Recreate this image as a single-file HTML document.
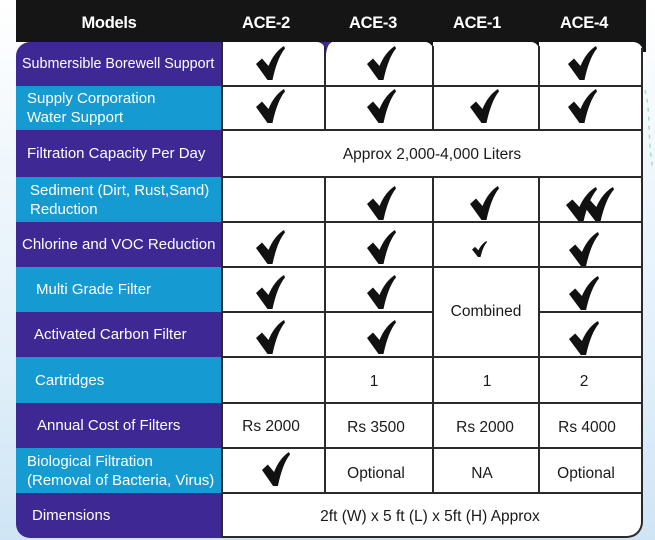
<!DOCTYPE html>
<html>
<head>
<meta charset="utf-8">
<style>
  html,body{margin:0;padding:0;}
  body{width:655px;height:540px;position:relative;overflow:hidden;
    background:linear-gradient(to bottom,#ffffff 0%,#f0f7fc 30%,#e2f0fa 65%,#cfe5f5 100%);
    font-family:"Liberation Sans",Arial,sans-serif;}
  .abs{position:absolute;}
  .hdr{left:16px;top:0;width:630px;height:42px;background:#151515;}
  .htxt{position:absolute;top:0;height:46px;line-height:46px;color:#fff;font-weight:bold;font-size:16.5px;transform:translateX(-50%);white-space:nowrap;letter-spacing:-0.3px;}
  .labels{left:16px;top:42px;width:206px;height:496px;border-radius:14px 0 0 14px;overflow:hidden;}
  .lrow{position:absolute;left:0;width:206px;color:#fff;font-size:15px;display:flex;align-items:center;white-space:nowrap;line-height:19px;box-sizing:border-box;}
  .p{background:#3d2894;}
  .b{background:#169ad2;}
  .data{left:222px;top:42px;width:421px;height:496px;background:#fff;border-bottom-right-radius:16px;}
  .hl{position:absolute;height:2px;background:#2a2a2a;}
  .vl{position:absolute;width:2px;background:#2a2a2a;}
  .t{position:absolute;font-size:15.5px;color:#1a1a1a;transform:translate(-50%,-50%);white-space:nowrap;}
  svg.ck{position:absolute;}
</style>
</head>
<body>
<!-- header -->
<div class="abs hdr"></div>
<div class="htxt" style="left:109px;">Models</div>
<div class="htxt" style="left:266px;">ACE-2</div>
<div class="htxt" style="left:373px;">ACE-3</div>
<div class="htxt" style="left:477px;">ACE-1</div>
<div class="htxt" style="left:584px;">ACE-4</div>

<!-- label column -->
<div class="abs labels">
  <div class="lrow p" style="top:0;height:44px;padding-left:6px;font-size:14.3px;">Submersible Borewell Support</div>
  <div class="lrow b" style="top:44px;height:44px;padding-left:11px;">Supply Corporation<br>Water Support</div>
  <div class="lrow p" style="top:88px;height:47px;padding-left:11px;">Filtration Capacity Per Day</div>
  <div class="lrow b" style="top:135px;height:45px;padding-left:14px;">Sediment (Dirt, Rust,Sand)<br>Reduction</div>
  <div class="lrow p" style="top:180px;height:45px;padding-left:6px;">Chlorine and VOC Reduction</div>
  <div class="lrow b" style="top:225px;height:45px;padding-left:20px;">Multi Grade Filter</div>
  <div class="lrow p" style="top:270px;height:45px;padding-left:18px;">Activated Carbon Filter</div>
  <div class="lrow b" style="top:315px;height:46px;padding-left:19px;">Cartridges</div>
  <div class="lrow p" style="top:361px;height:45px;padding-left:21px;">Annual Cost of Filters</div>
  <div class="lrow b" style="top:406px;height:45px;padding-left:11px;">Biological Filtration<br>(Removal of Bacteria, Virus)</div>
  <div class="lrow p" style="top:451px;height:45px;padding-left:16px;">Dimensions</div>
</div>

<!-- data area -->
<div class="abs data"></div>
<!-- row1 top-right rounded corners on black -->
<div class="abs" style="left:317px;top:42px;width:8px;height:8px;background:#151515;"></div>
<div class="abs" style="left:317px;top:42px;width:8px;height:8px;background:#fff;border-top-right-radius:8px;"></div>
<div class="abs" style="left:425px;top:42px;width:8px;height:8px;background:#151515;"></div>
<div class="abs" style="left:425px;top:42px;width:8px;height:8px;background:#fff;border-top-right-radius:8px;"></div>
<div class="abs" style="left:531px;top:42px;width:8px;height:8px;background:#151515;"></div>
<div class="abs" style="left:531px;top:42px;width:8px;height:8px;background:#fff;border-top-right-radius:8px;"></div>
<div class="abs" style="left:634px;top:42px;width:12px;height:10px;background:#151515;"></div>
<div class="abs" style="left:631px;top:42px;width:12px;height:12px;background:#fff;border-top-right-radius:10px;"></div>
<svg class="abs" style="left:320px;top:42px;" width="12" height="12"><path d="M0,0 L12,0 C8,2 7,6 6,12 C5,6 4,2 0,0 Z" fill="#3d2894"/></svg>

<!-- horizontal lines -->
<div class="hl" style="left:222px;top:85px;width:421px;"></div>
<div class="hl" style="left:222px;top:129px;width:421px;"></div>
<div class="hl" style="left:222px;top:176px;width:421px;"></div>
<div class="hl" style="left:222px;top:221px;width:421px;"></div>
<div class="hl" style="left:222px;top:266px;width:421px;"></div>
<div class="hl" style="left:222px;top:311px;width:211px;"></div>
<div class="hl" style="left:539px;top:311px;width:104px;"></div>
<div class="hl" style="left:222px;top:356px;width:421px;"></div>
<div class="hl" style="left:222px;top:402px;width:421px;"></div>
<div class="hl" style="left:222px;top:447px;width:421px;"></div>
<div class="hl" style="left:222px;top:492px;width:421px;"></div>
<!-- bottom border with rounded corner -->
<div class="abs" style="left:222px;top:493px;width:419px;height:43px;border-bottom:2px solid #2a2a2a;border-right:2px solid #2a2a2a;border-bottom-right-radius:16px;"></div>

<!-- vertical lines -->
<div class="vl" style="left:221px;top:42px;height:496px;"></div>
<div class="vl" style="left:324px;top:46px;height:84px;"></div>
<div class="vl" style="left:324px;top:177px;height:316px;"></div>
<div class="vl" style="left:432px;top:46px;height:84px;"></div>
<div class="vl" style="left:432px;top:177px;height:316px;"></div>
<div class="vl" style="left:538px;top:46px;height:84px;"></div>
<div class="vl" style="left:538px;top:177px;height:316px;"></div>
<div class="vl" style="left:641px;top:48px;height:450px;"></div>

<!-- text cells -->
<div class="t" style="left:432px;top:155px;">Approx 2,000-4,000 Liters</div>
<div class="t" style="left:486px;top:312px;">Combined</div>
<div class="t" style="left:374px;top:382px;">1</div>
<div class="t" style="left:487px;top:382px;">1</div>
<div class="t" style="left:584px;top:382px;">2</div>
<div class="t" style="left:271px;top:427px;">Rs 2000</div>
<div class="t" style="left:376px;top:428px;">Rs 3500</div>
<div class="t" style="left:485px;top:428px;">Rs 2000</div>
<div class="t" style="left:587px;top:428px;">Rs 4000</div>
<div class="t" style="left:376px;top:474px;">Optional</div>
<div class="t" style="left:482px;top:474px;">NA</div>
<div class="t" style="left:586px;top:474px;">Optional</div>
<div class="t" style="left:430px;top:517px;">2ft (W) x 5 ft (L) x 5ft (H) Approx</div>

<!-- check marks -->
<!-- row1 -->
<svg class="ck" style="left:256px;top:46px;" width="29" height="34" viewBox="0 0 29 34"><path d="M0,18 L6,12.5 L12.5,20 C16,11 22,3.5 28,0 L29,2.5 C23.5,9 19.5,20 16.5,34 L11.5,34 Z" fill="#111"/></svg>
<svg class="ck" style="left:367px;top:46px;" width="29" height="34" viewBox="0 0 29 34"><path d="M0,18 L6,12.5 L12.5,20 C16,11 22,3.5 28,0 L29,2.5 C23.5,9 19.5,20 16.5,34 L11.5,34 Z" fill="#111"/></svg>
<svg class="ck" style="left:568px;top:46px;" width="29" height="34" viewBox="0 0 29 34"><path d="M0,18 L6,12.5 L12.5,20 C16,11 22,3.5 28,0 L29,2.5 C23.5,9 19.5,20 16.5,34 L11.5,34 Z" fill="#111"/></svg>
<!-- row2 -->
<svg class="ck" style="left:256px;top:89px;" width="29" height="34" viewBox="0 0 29 34"><path d="M0,18 L6,12.5 L12.5,20 C16,11 22,3.5 28,0 L29,2.5 C23.5,9 19.5,20 16.5,34 L11.5,34 Z" fill="#111"/></svg>
<svg class="ck" style="left:367px;top:89px;" width="29" height="34" viewBox="0 0 29 34"><path d="M0,18 L6,12.5 L12.5,20 C16,11 22,3.5 28,0 L29,2.5 C23.5,9 19.5,20 16.5,34 L11.5,34 Z" fill="#111"/></svg>
<svg class="ck" style="left:470px;top:89px;" width="29" height="34" viewBox="0 0 29 34"><path d="M0,18 L6,12.5 L12.5,20 C16,11 22,3.5 28,0 L29,2.5 C23.5,9 19.5,20 16.5,34 L11.5,34 Z" fill="#111"/></svg>
<svg class="ck" style="left:568px;top:89px;" width="29" height="34" viewBox="0 0 29 34"><path d="M0,18 L6,12.5 L12.5,20 C16,11 22,3.5 28,0 L29,2.5 C23.5,9 19.5,20 16.5,34 L11.5,34 Z" fill="#111"/></svg>
<!-- row4 sediment -->
<svg class="ck" style="left:367px;top:186px;" width="29" height="34" viewBox="0 0 29 34"><path d="M0,18 L6,12.5 L12.5,20 C16,11 22,3.5 28,0 L29,2.5 C23.5,9 19.5,20 16.5,34 L11.5,34 Z" fill="#111"/></svg>
<svg class="ck" style="left:470px;top:186px;" width="29" height="34" viewBox="0 0 29 34"><path d="M0,18 L6,12.5 L12.5,20 C16,11 22,3.5 28,0 L29,2.5 C23.5,9 19.5,20 16.5,34 L11.5,34 Z" fill="#111"/></svg>
<svg class="ck" style="left:566px;top:187px;" width="31" height="34" viewBox="0 0 29 34" preserveAspectRatio="none"><path d="M0,18 L6,12.5 L12.5,20 C16,11 22,3.5 28,0 L29,2.5 C23.5,9 19.5,20 16.5,34 L11.5,34 Z" fill="#111"/></svg>
<svg class="ck" style="left:583px;top:187px;" width="31" height="34" viewBox="0 0 29 34" preserveAspectRatio="none"><path d="M0,18 L6,12.5 L12.5,20 C16,11 22,3.5 28,0 L29,2.5 C23.5,9 19.5,20 16.5,34 L11.5,34 Z" fill="#111"/></svg>
<!-- row5 chlorine -->
<svg class="ck" style="left:256px;top:230px;" width="29" height="34" viewBox="0 0 29 34"><path d="M0,18 L6,12.5 L12.5,20 C16,11 22,3.5 28,0 L29,2.5 C23.5,9 19.5,20 16.5,34 L11.5,34 Z" fill="#111"/></svg>
<svg class="ck" style="left:367px;top:230px;" width="29" height="34" viewBox="0 0 29 34"><path d="M0,18 L6,12.5 L12.5,20 C16,11 22,3.5 28,0 L29,2.5 C23.5,9 19.5,20 16.5,34 L11.5,34 Z" fill="#111"/></svg>
<svg class="ck" style="left:472px;top:241px;" width="15" height="16" viewBox="0 0 29 34" preserveAspectRatio="none"><path d="M0,18 L6,12.5 L12.5,20 C16,11 22,3.5 28,0 L29,2.5 C23.5,9 19.5,20 16.5,34 L11.5,34 Z" fill="#111"/></svg>
<svg class="ck" style="left:569px;top:232px;" width="30" height="34" viewBox="0 0 29 34" preserveAspectRatio="none"><path d="M0,18 L6,12.5 L12.5,20 C16,11 22,3.5 28,0 L29,2.5 C23.5,9 19.5,20 16.5,34 L11.5,34 Z" fill="#111"/></svg>
<!-- row6 multi grade -->
<svg class="ck" style="left:256px;top:275px;" width="29" height="34" viewBox="0 0 29 34"><path d="M0,18 L6,12.5 L12.5,20 C16,11 22,3.5 28,0 L29,2.5 C23.5,9 19.5,20 16.5,34 L11.5,34 Z" fill="#111"/></svg>
<svg class="ck" style="left:367px;top:275px;" width="29" height="34" viewBox="0 0 29 34"><path d="M0,18 L6,12.5 L12.5,20 C16,11 22,3.5 28,0 L29,2.5 C23.5,9 19.5,20 16.5,34 L11.5,34 Z" fill="#111"/></svg>
<svg class="ck" style="left:569px;top:276px;" width="30" height="34" viewBox="0 0 29 34" preserveAspectRatio="none"><path d="M0,18 L6,12.5 L12.5,20 C16,11 22,3.5 28,0 L29,2.5 C23.5,9 19.5,20 16.5,34 L11.5,34 Z" fill="#111"/></svg>
<!-- row7 activated -->
<svg class="ck" style="left:256px;top:320px;" width="29" height="34" viewBox="0 0 29 34"><path d="M0,18 L6,12.5 L12.5,20 C16,11 22,3.5 28,0 L29,2.5 C23.5,9 19.5,20 16.5,34 L11.5,34 Z" fill="#111"/></svg>
<svg class="ck" style="left:367px;top:320px;" width="29" height="34" viewBox="0 0 29 34"><path d="M0,18 L6,12.5 L12.5,20 C16,11 22,3.5 28,0 L29,2.5 C23.5,9 19.5,20 16.5,34 L11.5,34 Z" fill="#111"/></svg>
<svg class="ck" style="left:569px;top:321px;" width="30" height="34" viewBox="0 0 29 34" preserveAspectRatio="none"><path d="M0,18 L6,12.5 L12.5,20 C16,11 22,3.5 28,0 L29,2.5 C23.5,9 19.5,20 16.5,34 L11.5,34 Z" fill="#111"/></svg>
<!-- row10 biological -->
<svg class="ck" style="left:262px;top:452px;" width="28" height="34" viewBox="0 0 29 34" preserveAspectRatio="none"><path d="M0,18 L6,12.5 L12.5,20 C16,11 22,3.5 28,0 L29,2.5 C23.5,9 19.5,20 16.5,34 L11.5,34 Z" fill="#111"/></svg>

<!-- faint green swirl on right -->
<svg class="abs" style="left:643px;top:80px;" width="12" height="120"><path d="M2,10 C8,30 4,60 10,90" stroke="#9fe3c0" stroke-width="1.5" fill="none" stroke-dasharray="4 5"/></svg>
</body>
</html>
